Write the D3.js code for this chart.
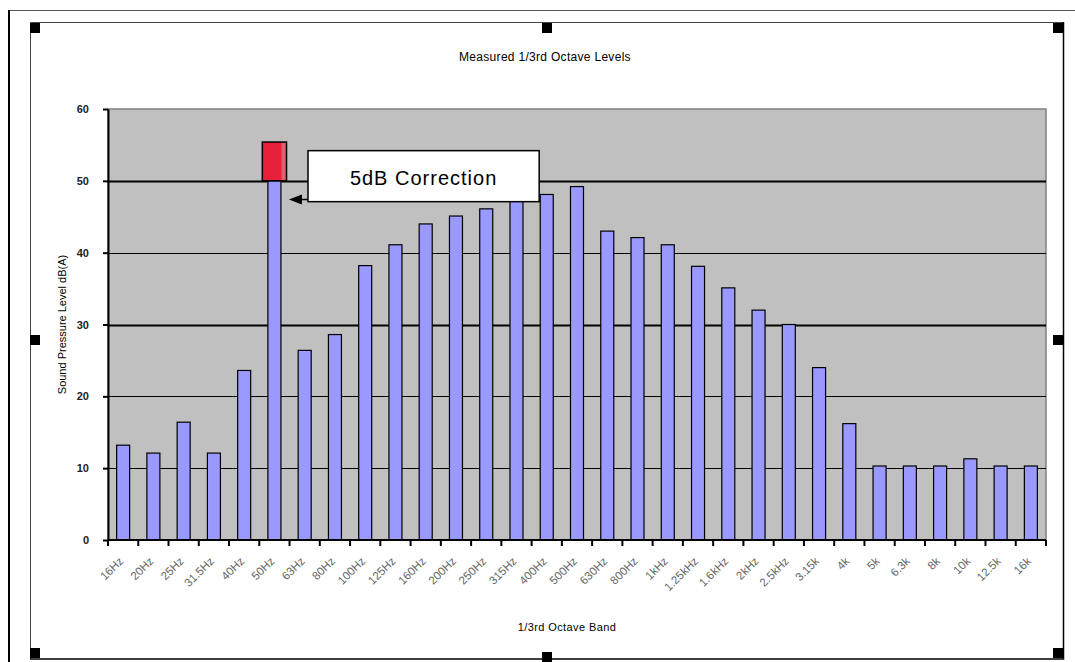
<!DOCTYPE html>
<html>
<head>
<meta charset="utf-8">
<script src="https://cdn.jsdelivr.net/npm/d3@7"></script>
<style>
  body { margin: 0; background: #fff; }
  svg { display: block; font-family: "Liberation Sans", Arial, sans-serif; }
  .axis path, .axis line { stroke: #000; }
</style>
</head>
<body>
<div id="chart"></div>
<script>
var bands = ["16Hz", "20Hz", "25Hz", "31.5Hz", "40Hz", "50Hz", "63Hz", "80Hz", "100Hz",
    "125Hz", "160Hz", "200Hz", "250Hz", "315Hz", "400Hz", "500Hz", "630Hz", "800Hz",
    "1kHz", "1.25kHz", "1.6kHz", "2kHz", "2.5kHz", "3.15k", "4k", "5k", "6.3k", "8k",
    "10k", "12.5k", "16k"];
var levels = [13.2, 12.1, 16.4, 12.1, 23.6, 50, 26.4, 28.6, 38.2, 41.1, 44, 45.1, 46.1,
    47.6, 48.1, 49.2, 43, 42.1, 41.1, 38.1, 35.1, 32, 30, 24, 16.2, 10.3, 10.3, 10.3,
    11.3, 10.3, 10.3];
var corrections = [{band: "50Hz", from: 50, to: 55.4}];
var yTicks = [0, 10, 20, 30, 40, 50, 60];
var chartTitle = "Measured 1/3rd Octave Levels";
var xTitle = "1/3rd Octave Band";
var yTitle = "Sound Pressure Level dB(A)";
var noteText = "5dB Correction";

var outerWidth = 1075, outerHeight = 662;
var margin = {top: 109, right: 29, bottom: 122, left: 108};
var width = outerWidth - margin.left - margin.right;
var height = outerHeight - margin.top - margin.bottom;

var root = d3.select("#chart").append("svg")
    .attr("width", outerWidth)
    .attr("height", outerHeight);

// Frames round the picture
root.append("line").attr("x1", 9).attr("x2", outerWidth).attr("y1", 10.5).attr("y2", 10.5)
    .attr("stroke", "#555").attr("stroke-width", 1);
root.append("line").attr("x1", 9).attr("x2", 9).attr("y1", 10).attr("y2", outerHeight)
    .attr("stroke", "#000").attr("stroke-width", 2);
root.append("path")
    .attr("d", "M1063,22.5 H30.5 V659")
    .attr("fill", "none").attr("stroke", "#444").attr("stroke-width", 1);
root.append("path")
    .attr("d", "M30,659 H1063.5 V22")
    .attr("fill", "none").attr("stroke", "#000").attr("stroke-width", 1.5);

// Selection handles
[[30, 23], [542, 23], [1053, 23], [30, 335], [1053, 335], [30, 648], [542, 652], [1053, 648]]
    .forEach(function(h) {
        root.append("rect").attr("x", h[0]).attr("y", h[1])
            .attr("width", 10).attr("height", 10).attr("fill", "#000");
    });

root.append("text")
    .attr("x", 545).attr("y", 61)
    .attr("text-anchor", "middle")
    .style("font-size", "12px")
    .style("letter-spacing", "0.3px")
    .text(chartTitle);

var svg = root.append("g")
    .attr("transform", "translate(" + margin.left + "," + margin.top + ")");

var xScale = d3.scaleBand()
    .domain(bands)
    .range([0, width])
    .paddingInner(0.57)
    .paddingOuter(0.285);

var xEdges = d3.scaleBand().domain(bands).range([0, width]);

var yScale = d3.scaleLinear()
    .domain([0, 60])
    .range([height, 0]);

// Plot area
svg.append("rect")
    .attr("width", width).attr("height", height)
    .attr("fill", "#c0c0c0")
    .attr("stroke", "#808080").attr("stroke-width", 1.5);

// Gridlines
svg.selectAll(".grid")
    .data(yTicks.filter(d => d > 0 && d < 60))
    .enter().append("line")
    .attr("class", "grid")
    .attr("x1", 0).attr("x2", width)
    .attr("y1", d => Math.round(yScale(d)) + 0.5)
    .attr("y2", d => Math.round(yScale(d)) + 0.5)
    .attr("stroke", "#000")
    .attr("stroke-width", d => (d == 50 || d == 30) ? 2 : 1);

// Bars
svg.selectAll(".bar")
    .data(levels)
    .enter().append("rect")
    .attr("class", "bar")
    .attr("x", (d, i) => xScale(bands[i]))
    .attr("y", d => yScale(d))
    .attr("width", xScale.bandwidth())
    .attr("height", d => height - yScale(d))
    .attr("fill", "#9999ff")
    .attr("stroke", "#000")
    .attr("stroke-width", 1.2);

// Correction block
var corrW = xEdges.bandwidth() * 0.8;
var corr = svg.selectAll(".corr")
    .data(corrections)
    .enter().append("g")
    .attr("class", "corr");
corr.append("rect")
    .attr("x", d => xScale(d.band) + xScale.bandwidth() / 2 - corrW / 2)
    .attr("y", d => yScale(d.to))
    .attr("width", corrW)
    .attr("height", d => yScale(d.from) - yScale(d.to))
    .attr("fill", "#e8203a");
corr.append("rect")
    .attr("x", d => xScale(d.band) + xScale.bandwidth() / 2 + corrW / 2 - 5)
    .attr("y", d => yScale(d.to))
    .attr("width", 5)
    .attr("height", d => yScale(d.from) - yScale(d.to))
    .attr("fill", "#e0606e");
corr.append("rect")
    .attr("x", d => xScale(d.band) + xScale.bandwidth() / 2 - corrW / 2)
    .attr("y", d => yScale(d.to))
    .attr("width", corrW)
    .attr("height", d => yScale(d.from) - yScale(d.to))
    .attr("fill", "none")
    .attr("stroke", "#000").attr("stroke-width", 1.5);

// Note box with arrow
var boxX0 = xEdges("63Hz") + xEdges.bandwidth() * 0.61;
var boxX1 = xEdges("400Hz") + xEdges.bandwidth() * 0.25;
var boxY0 = yScale(54.2), boxY1 = yScale(47.1);
var arrowY = yScale(47.4);
var arrowTip = xScale("50Hz") + xScale.bandwidth() + 8;
svg.append("line")
    .attr("x1", boxX0).attr("x2", arrowTip + 6)
    .attr("y1", arrowY).attr("y2", arrowY)
    .attr("stroke", "#000").attr("stroke-width", 1.5);
svg.append("path")
    .attr("d", "M" + arrowTip + "," + arrowY + " l13,-5 l0,10 Z")
    .attr("fill", "#000");
svg.append("rect")
    .attr("x", boxX0).attr("y", boxY0)
    .attr("width", boxX1 - boxX0).attr("height", boxY1 - boxY0)
    .attr("fill", "#fff")
    .attr("stroke", "#000").attr("stroke-width", 1.5);
svg.append("text")
    .attr("x", (boxX0 + boxX1) / 2).attr("y", (boxY0 + boxY1) / 2 + 9)
    .attr("text-anchor", "middle")
    .style("font-size", "20px")
    .style("letter-spacing", "1px")
    .text(noteText);

// Y axis
svg.append("g")
    .attr("class", "y axis")
    .call(d3.axisLeft(yScale).tickValues(yTicks).tickSize(5).tickSizeOuter(0).tickPadding(14))
    .call(g => g.select(".domain").attr("stroke-width", 2))
    .call(g => g.selectAll(".tick line").attr("stroke-width", 2))
    .selectAll("text")
    .style("font-size", "11px")
    .style("font-family", "'Liberation Sans', Arial, sans-serif")
    .style("font-weight", "bold")
    .attr("fill", "#222");

// X axis with ticks between bands
var xAxis = svg.append("g")
    .attr("class", "x axis")
    .attr("transform", "translate(0," + height + ")");
xAxis.append("line")
    .attr("x1", 0).attr("x2", width)
    .attr("stroke", "#000").attr("stroke-width", 2);
xAxis.selectAll(".edge")
    .data(bands.concat(["end"]))
    .enter().append("line")
    .attr("class", "edge")
    .attr("x1", (d, i) => i * xEdges.step())
    .attr("x2", (d, i) => i * xEdges.step())
    .attr("y1", 0).attr("y2", 6)
    .attr("stroke", "#000").attr("stroke-width", 2);
xAxis.selectAll(".lab")
    .data(bands)
    .enter().append("text")
    .attr("class", "lab")
    .attr("transform", d => "translate(" + (xScale(d) + xScale.bandwidth() / 2 - 2) + ",19) rotate(-45)")
    .attr("text-anchor", "end")
    .attr("dy", "0.35em")
    .attr("fill", "#666")
    .style("font-size", "11.5px")
    .text(d => d);

// Axis titles
root.append("text")
    .attr("x", 567).attr("y", 631)
    .attr("text-anchor", "middle")
    .style("font-size", "11px")
    .style("letter-spacing", "0.4px")
    .text(xTitle);
root.append("text")
    .attr("transform", "translate(66," + (margin.top + height / 2) + ") rotate(-90)")
    .attr("text-anchor", "middle")
    .style("font-size", "11px")
    .text(yTitle);
</script>
</body>
</html>
